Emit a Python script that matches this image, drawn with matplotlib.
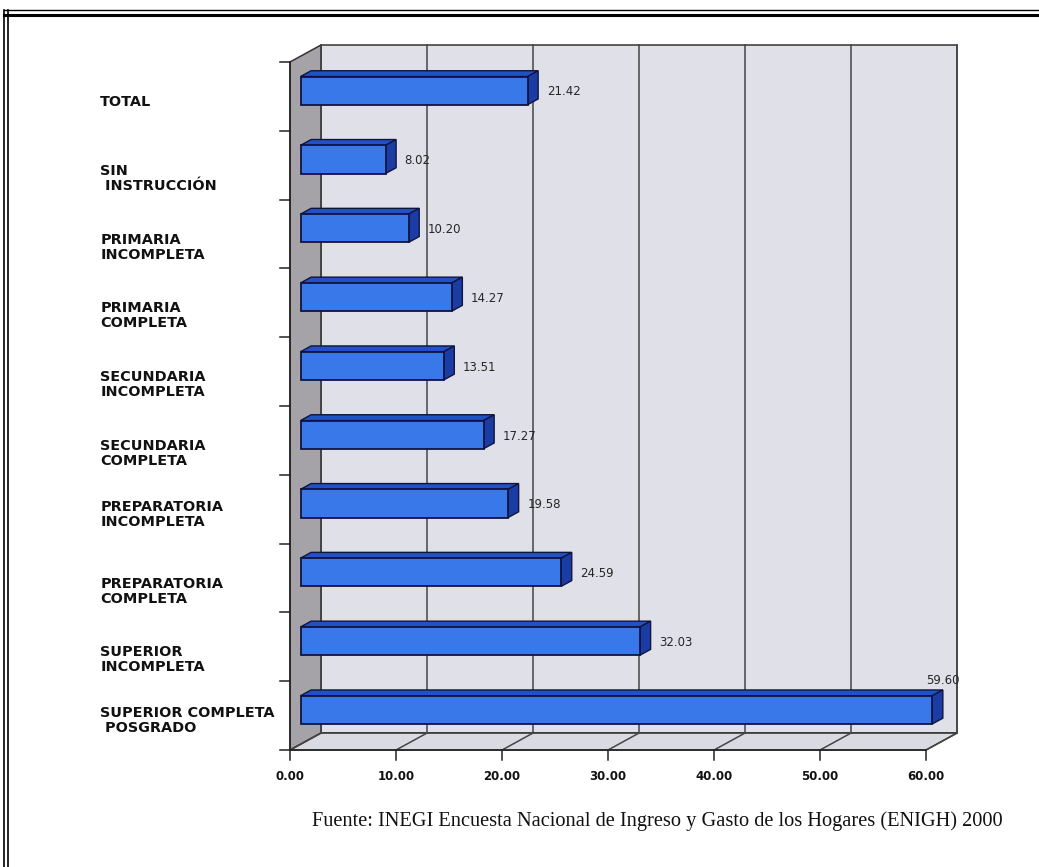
import matplotlib.pyplot as plt
from matplotlib.patches import Polygon
from matplotlib.lines import Line2D

# --- Data: average value by schooling level ---
categories = [
    "TOTAL",
    "SIN\n INSTRUCCIÓN",
    "PRIMARIA\nINCOMPLETA",
    "PRIMARIA\nCOMPLETA",
    "SECUNDARIA\nINCOMPLETA",
    "SECUNDARIA\nCOMPLETA",
    "PREPARATORIA\nINCOMPLETA",
    "PREPARATORIA\nCOMPLETA",
    "SUPERIOR\nINCOMPLETA",
    "SUPERIOR COMPLETA\n POSGRADO",
]
values = [21.42, 8.02, 10.20, 14.27, 13.51, 17.27, 19.58, 24.59, 32.03, 59.60]
ticks = [0, 10, 20, 30, 40, 50, 60]
tick_labels = ["0.00", "10.00", "20.00", "30.00", "40.00", "50.00", "60.00"]
source = "Fuente: INEGI Encuesta Nacional de Ingreso y Gasto de los Hogares (ENIGH) 2000"

# --- 3D-look geometry (value units on x, category units on y) ---
DX, DY = 2.925, -0.247          # depth offset of the back wall
Z0, Z1 = 0.34, 0.68             # bar depth range
BAR_H = 0.41                    # bar thickness in category units
label_nudge = {0: -0.11, 6: -0.11, 9: -0.12}

WALL = "#e0e0e8"
FLOOR = "#dadae2"
SIDE_WALL = "#a6a3a8"
EDGE = "#333333"
BAR_FRONT = "#3878e8"
BAR_TOP = "#2250c8"
BAR_SIDE = "#1a3ca4"
BAR_EDGE = "#10153f"


def proj(v, c, z):
    return (v + z * DX, c + z * DY)


n = len(categories)
vmax = ticks[-1]

fig = plt.figure(figsize=(10.39, 8.67), dpi=100)
ax = fig.add_axes([0, 0, 1, 1])
ax.set_xlim(-27.36, 70.66)
ax.set_ylim(11.70, -0.901)
ax.axis("off")

# walls and floor
back = [proj(0, 0, 1), proj(vmax, 0, 1), proj(vmax, n, 1), proj(0, n, 1)]
left = [proj(0, 0, 0), proj(0, 0, 1), proj(0, n, 1), proj(0, n, 0)]
floor = [proj(0, n, 0), proj(vmax, n, 0), proj(vmax, n, 1), proj(0, n, 1)]
ax.add_patch(Polygon(back, closed=True, fc=WALL, ec=EDGE, lw=1.1, zorder=1))
ax.add_patch(Polygon(left, closed=True, fc=SIDE_WALL, ec=EDGE, lw=1.1, zorder=1))
ax.add_patch(Polygon(floor, closed=True, fc=FLOOR, ec=EDGE, lw=1.1, zorder=1))

# grid lines on back wall and floor, plus tick marks
for t, lab in zip(ticks, tick_labels):
    x0, y0 = proj(t, 0, 1)
    x1, y1 = proj(t, n, 1)
    ax.plot([x0, x1], [y0, y1], color="#454545", lw=1.1, zorder=2)
    fx, fy = proj(t, n, 0)
    ax.plot([fx, x1], [fy, y1], color="#454545", lw=1.1, zorder=2)
    ax.plot([fx, fx], [fy, fy + 0.15], color="#222222", lw=1.1, zorder=2)
    ax.text(fx, fy + 0.38, lab, ha="center", va="center", fontsize=8.5,
            fontweight="bold", color="#111111", family="DejaVu Sans")

# category ticks on the left edge
for k in range(n + 1):
    ax.plot([-0.95, 0], [k, k], color="#222222", lw=1.1, zorder=2)
ax.plot([0, 0], [0, n], color="#222222", lw=1.1, zorder=2)
ax.plot([0, vmax], [n, n], color="#222222", lw=1.1, zorder=2)

# bars
for i, (cat, v) in enumerate(zip(categories, values)):
    top, bot = i + 0.5 - BAR_H / 2, i + 0.5 + BAR_H / 2
    front = [proj(0, top, Z0), proj(v, top, Z0), proj(v, bot, Z0), proj(0, bot, Z0)]
    lid = [proj(0, top, Z0), proj(v, top, Z0), proj(v, top, Z1), proj(0, top, Z1)]
    side = [proj(v, top, Z0), proj(v, bot, Z0), proj(v, bot, Z1), proj(v, top, Z1)]
    ax.add_patch(Polygon(lid, closed=True, fc=BAR_TOP, ec=BAR_EDGE, lw=1.0, zorder=4))
    ax.add_patch(Polygon(side, closed=True, fc=BAR_SIDE, ec=BAR_EDGE, lw=1.0, zorder=4))
    ax.add_patch(Polygon(front, closed=True, fc=BAR_FRONT, ec=BAR_EDGE, lw=1.3, zorder=5))

    # value label: right of the bar, or above it when it would leave the wall
    lx, ly = proj(v, i + 0.5, Z0)
    if lx + 5 > vmax + DX:
        tx, ty = proj(v, top, Z1)
        ax.text(tx, ty - 0.04, f"{v:.2f}", ha="center", va="bottom", fontsize=8.5,
                color="#262626", zorder=6)
    else:
        ax.text(lx + 1.8, ly + 0.02, f"{v:.2f}", ha="left", va="center", fontsize=8.5,
                color="#262626", zorder=6)

    # category label
    ax.text(-17.9, i + 0.69 + label_nudge.get(i, 0), cat, ha="left", va="center",
            fontsize=10.4, fontweight="bold", color="#111111", linespacing=1.08,
            family="DejaVu Sans")

# source note
ax.text((312 - 290) / 10.6, (821 - 62) / 68.8, source, ha="left", va="center",
        fontsize=14.7, family="Liberation Serif", color="#111111")

# page frame
for y, lw in [(0.9885, 1.0), (0.9825, 2.2)]:
    fig.add_artist(Line2D([0.004, 1.0], [y, y], color="black", lw=lw,
                          transform=fig.transFigure))
for x in [0.004, 0.0075]:
    fig.add_artist(Line2D([x, x], [0, 0.9885], color="black", lw=1.2,
                          transform=fig.transFigure))

fig.savefig("out.png", dpi=100)
